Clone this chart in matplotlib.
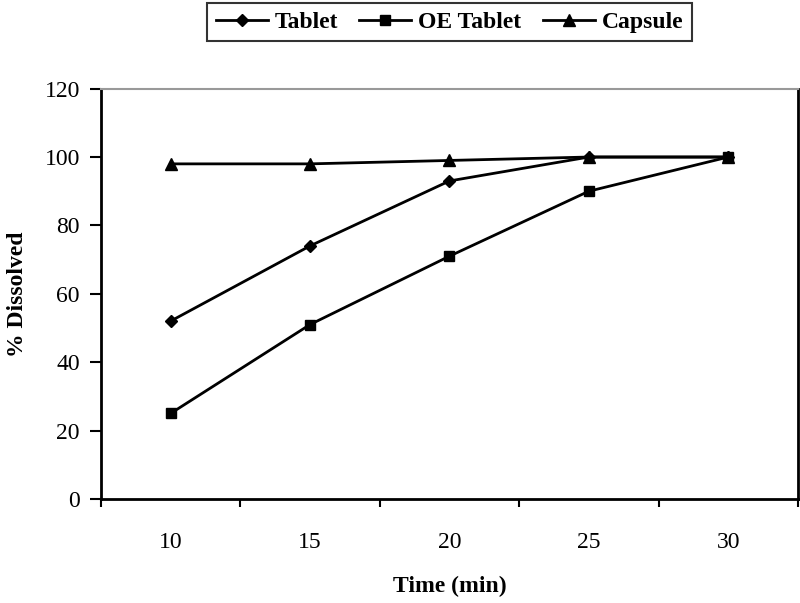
import matplotlib.pyplot as plt
import numpy as np

# dane
czas = ['10', '15', '20', '25', '30']
tablet = [52, 74, 93, 100, 100]
oe_tablet = [25, 51, 71, 90, 100]
capsule = [98, 98, 99, 100, 100]

plt.rcParams['font.family'] = ['Liberation Serif', 'DejaVu Serif']

fig = plt.figure(figsize=(8, 6.03), dpi=100)
ax = fig.add_axes([0.126, 0.1725, 0.8715, 0.6805])

x = np.arange(len(czas))
ax.plot(x, tablet, color='black', lw=2, marker='D', ms=6, label='Tablet')
ax.plot(x, oe_tablet, color='black', lw=2, marker='s', ms=7, label='OE Tablet')
ax.plot(x, capsule, color='black', lw=2, marker='^', ms=8, label='Capsule')

ax.set_xlim(-0.5, len(czas) - 0.5)
ax.set_ylim(0, 120)
ax.set_yticks(np.arange(0, 121, 20))
ax.set_xticks(x)
ax.set_xticklabels(czas)
ax.set_xticks(np.arange(-0.5, len(czas), 1), minor=True)
ax.tick_params(axis='x', which='major', length=0, pad=24, labelsize=17)
ax.tick_params(axis='x', which='minor', length=6, width=1.5, direction='out')
ax.tick_params(axis='y', length=8, width=1.5, direction='out', labelsize=17, pad=7)

for side in ['left', 'bottom', 'right']:
    ax.spines[side].set_linewidth(2)
ax.spines['top'].set_linewidth(1.5)
ax.spines['top'].set_color('#999999')

ax.set_xlabel('Time (min)', fontsize=17, fontweight='bold', labelpad=16)
ax.set_ylabel('% Dissolved', fontsize=17, fontweight='bold')
ax.yaxis.set_label_coords(-0.105, 0.5)

leg = fig.legend(loc='upper center', bbox_to_anchor=(0.562, 0.995), ncol=3,
                 frameon=True, fancybox=False, edgecolor='black',
                 prop={'weight': 'bold', 'size': 17}, handlelength=2.2,
                 columnspacing=0.9, handletextpad=0.3, borderpad=0.35,
                 borderaxespad=0)
leg.get_frame().set_linewidth(1.5)

fig.savefig('out.png', dpi=100)
